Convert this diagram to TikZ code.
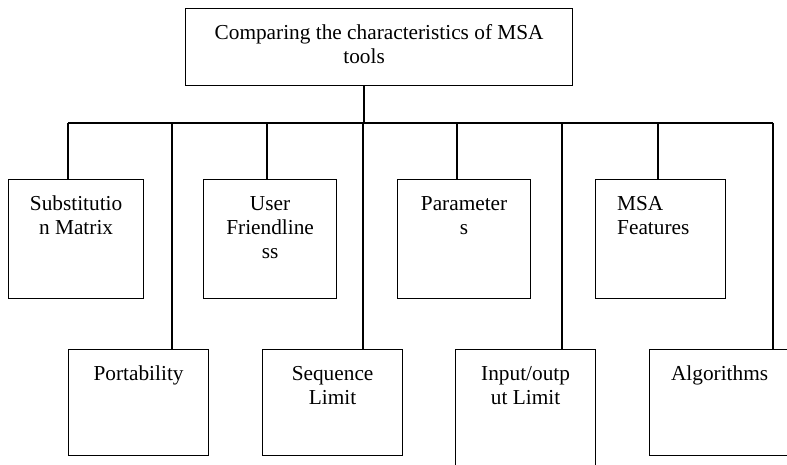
\documentclass[tikz,border=0pt]{standalone}
\usepackage{fontspec}
\setmainfont{Liberation Serif}
\newfontfamily\tnrfont{Liberation Serif}
\begin{document}
\begin{tikzpicture}[x=1pt,y=-1pt,
  box/.style={draw, line width=1.2pt, rectangle, inner sep=0pt, anchor=north west},
  txt/.style={inner sep=0pt, align=center, anchor=north, font=\tnrfont\fontsize{21.3}{24}\selectfont},
  txtl/.style={inner sep=0pt, align=left, anchor=north west, font=\tnrfont\fontsize{21.3}{24}\selectfont},
  wire/.style={line width=1.2pt}]
\useasboundingbox (0,0) rectangle (787,465);
\clip (0,0) rectangle (787,465);
% boxes
\node[box, minimum width=387pt, minimum height=77pt] (top) at (185,8) {};
\node[box, minimum width=135pt, minimum height=119pt] (sub) at (8,179) {};
\node[box, minimum width=133pt, minimum height=119pt] (user) at (203,179) {};
\node[box, minimum width=133pt, minimum height=119pt] (param) at (397,179) {};
\node[box, minimum width=130pt, minimum height=119pt] (msa) at (595,179) {};
\node[box, minimum width=140pt, minimum height=106pt] (port) at (68,349) {};
\node[box, minimum width=140pt, minimum height=106pt] (seq) at (262,349) {};
\node[box, minimum width=140pt, minimum height=140pt] (io) at (455,349) {};
\node[box, minimum width=140pt, minimum height=106pt] (alg) at (649,349) {};
% texts
\node[txt] (topT) at ([yshift=-14.2pt]top.north) {\strut Comparing the characteristics of MSA\\\hspace*{-30pt}tools};
\node[txt] (subT) at ([yshift=-14.2pt]sub.north) {\strut Substitutio\\n Matrix};
\node[txt] (userT) at ([yshift=-14.2pt]user.north) {\strut User\\Friendline\\ss};
\node[txt] (paramT) at ([yshift=-14.2pt]param.north) {\strut Parameter\\s};
\node[txtl] (msaT) at ([xshift=22pt,yshift=-14.2pt]msa.north west) {\strut MSA\\Features};
\node[txt] (portT) at ([yshift=-14.2pt]port.north) {\strut Portability};
\node[txt] (seqT) at ([yshift=-14.2pt]seq.north) {\strut Sequence\\Limit};
\node[txt] (ioT) at ([yshift=-14.2pt]io.north) {\strut Input/outp\\ut Limit};
\node[txt] (algT) at ([yshift=-14.2pt]alg.north) {\strut Algorithms};
% bus coordinates
\coordinate (bt) at (364,123);
\coordinate (bsub) at (68,123);
\coordinate (bport) at (172,123);
\coordinate (buser) at (267,123);
\coordinate (bseq) at (363,123);
\coordinate (bparam) at (457,123);
\coordinate (bio) at (562,123);
\coordinate (bmsa) at (658,123);
\coordinate (balg) at (773,123);
% connectors
\draw[wire] (bt |- top.south) -- (bt);
\draw[wire] (bsub) -- (balg);
\draw[wire] (bsub) -- (bsub |- sub.north);
\draw[wire] (bport) -- (bport |- port.north);
\draw[wire] (buser) -- (buser |- user.north);
\draw[wire] (bseq) -- (bseq |- seq.north);
\draw[wire] (bparam) -- (bparam |- param.north);
\draw[wire] (bio) -- (bio |- io.north);
\draw[wire] (bmsa) -- (bmsa |- msa.north);
\draw[wire] (balg) -- (balg |- alg.north);
\end{tikzpicture}
\end{document}
